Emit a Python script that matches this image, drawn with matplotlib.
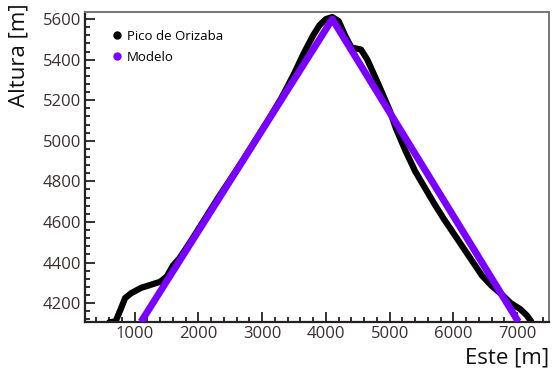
import numpy as np
import matplotlib.pyplot as plt
from matplotlib.ticker import MultipleLocator
from matplotlib.lines import Line2D

# perfil del Pico de Orizaba
este = [600, 700, 780, 850, 950, 1100, 1250, 1400, 1500, 1600, 1700, 1900,
        2100, 2300, 2500, 2700, 2900, 3100, 3300, 3500, 3650, 3800, 3900,
        4000, 4100, 4200, 4300, 4400, 4550, 4650, 4750, 4850, 5000, 5100,
        5250, 5400, 5550, 5700, 5850, 6000, 6150, 6300, 6450, 6600, 6750,
        6900, 7050, 7150, 7220]
altura = [4105, 4110, 4170, 4225, 4250, 4275, 4290, 4305, 4330, 4385, 4420,
          4515, 4615, 4715, 4810, 4905, 5005, 5105, 5210, 5330, 5430, 5520,
          5570, 5600, 5610, 5590, 5520, 5460, 5450, 5400, 5330, 5260, 5150,
          5060, 4950, 4850, 4770, 4690, 4615, 4545, 4475, 4405, 4335, 4285,
          4245, 4200, 4170, 4140, 4110]

# modelo triangular
modelo_x = [1100, 4100, 7020]
modelo_y = [4108, 5600, 4108]

fig = plt.figure(figsize=(5.57, 3.75), dpi=100)
ax = fig.add_axes([0.1526, 0.142, 0.833, 0.826])

ax.plot(este, altura, color='black', lw=4.5, solid_capstyle='round', zorder=2)
ax.plot(modelo_x, modelo_y, color='#7a00ff', lw=5, solid_capstyle='butt', zorder=3)

ax.set_xlim(220, 7500)
ax.set_ylim(4108, 5635)
ax.xaxis.set_major_locator(MultipleLocator(1000))
ax.xaxis.set_minor_locator(MultipleLocator(200))
ax.yaxis.set_major_locator(MultipleLocator(200))
ax.yaxis.set_minor_locator(MultipleLocator(40))
ax.tick_params(which='both', direction='in', top=False, right=False,
               colors='#222222', labelcolor='#3a3030', labelsize=12, width=1.3)
ax.tick_params(which='major', length=7, pad=3)
ax.tick_params(which='minor', length=3.5)
for lab in ax.get_xticklabels() + ax.get_yticklabels():
    lab.set_family('Open Sans')

for s in ['left', 'bottom']:
    ax.spines[s].set_linewidth(1.6)
    ax.spines[s].set_color('#222222')
for s in ['top', 'right']:
    ax.spines[s].set_linewidth(1.4)
    ax.spines[s].set_color('#777777')

fig.text(0.035, 0.99, 'Altura [m]', rotation=90, ha='center', va='top',
         fontsize=16, family='Open Sans', color='#111111')
fig.text(0.985, 0.045, 'Este [m]', ha='right', va='center',
         fontsize=16, family='Open Sans', color='#111111')

handles = [Line2D([], [], ls='none', marker='o', ms=5, color='black'),
           Line2D([], [], ls='none', marker='o', ms=5, color='#7a00ff')]
ax.legend(handles, ['Pico de Orizaba', 'Modelo'], loc='upper left',
          bbox_to_anchor=(0.03, 0.98), frameon=False, handletextpad=0.2,
          handlelength=1.0, labelspacing=0.6,
          prop={'family': 'Open Sans', 'size': 9.5})

fig.savefig('out.png', dpi=100)
